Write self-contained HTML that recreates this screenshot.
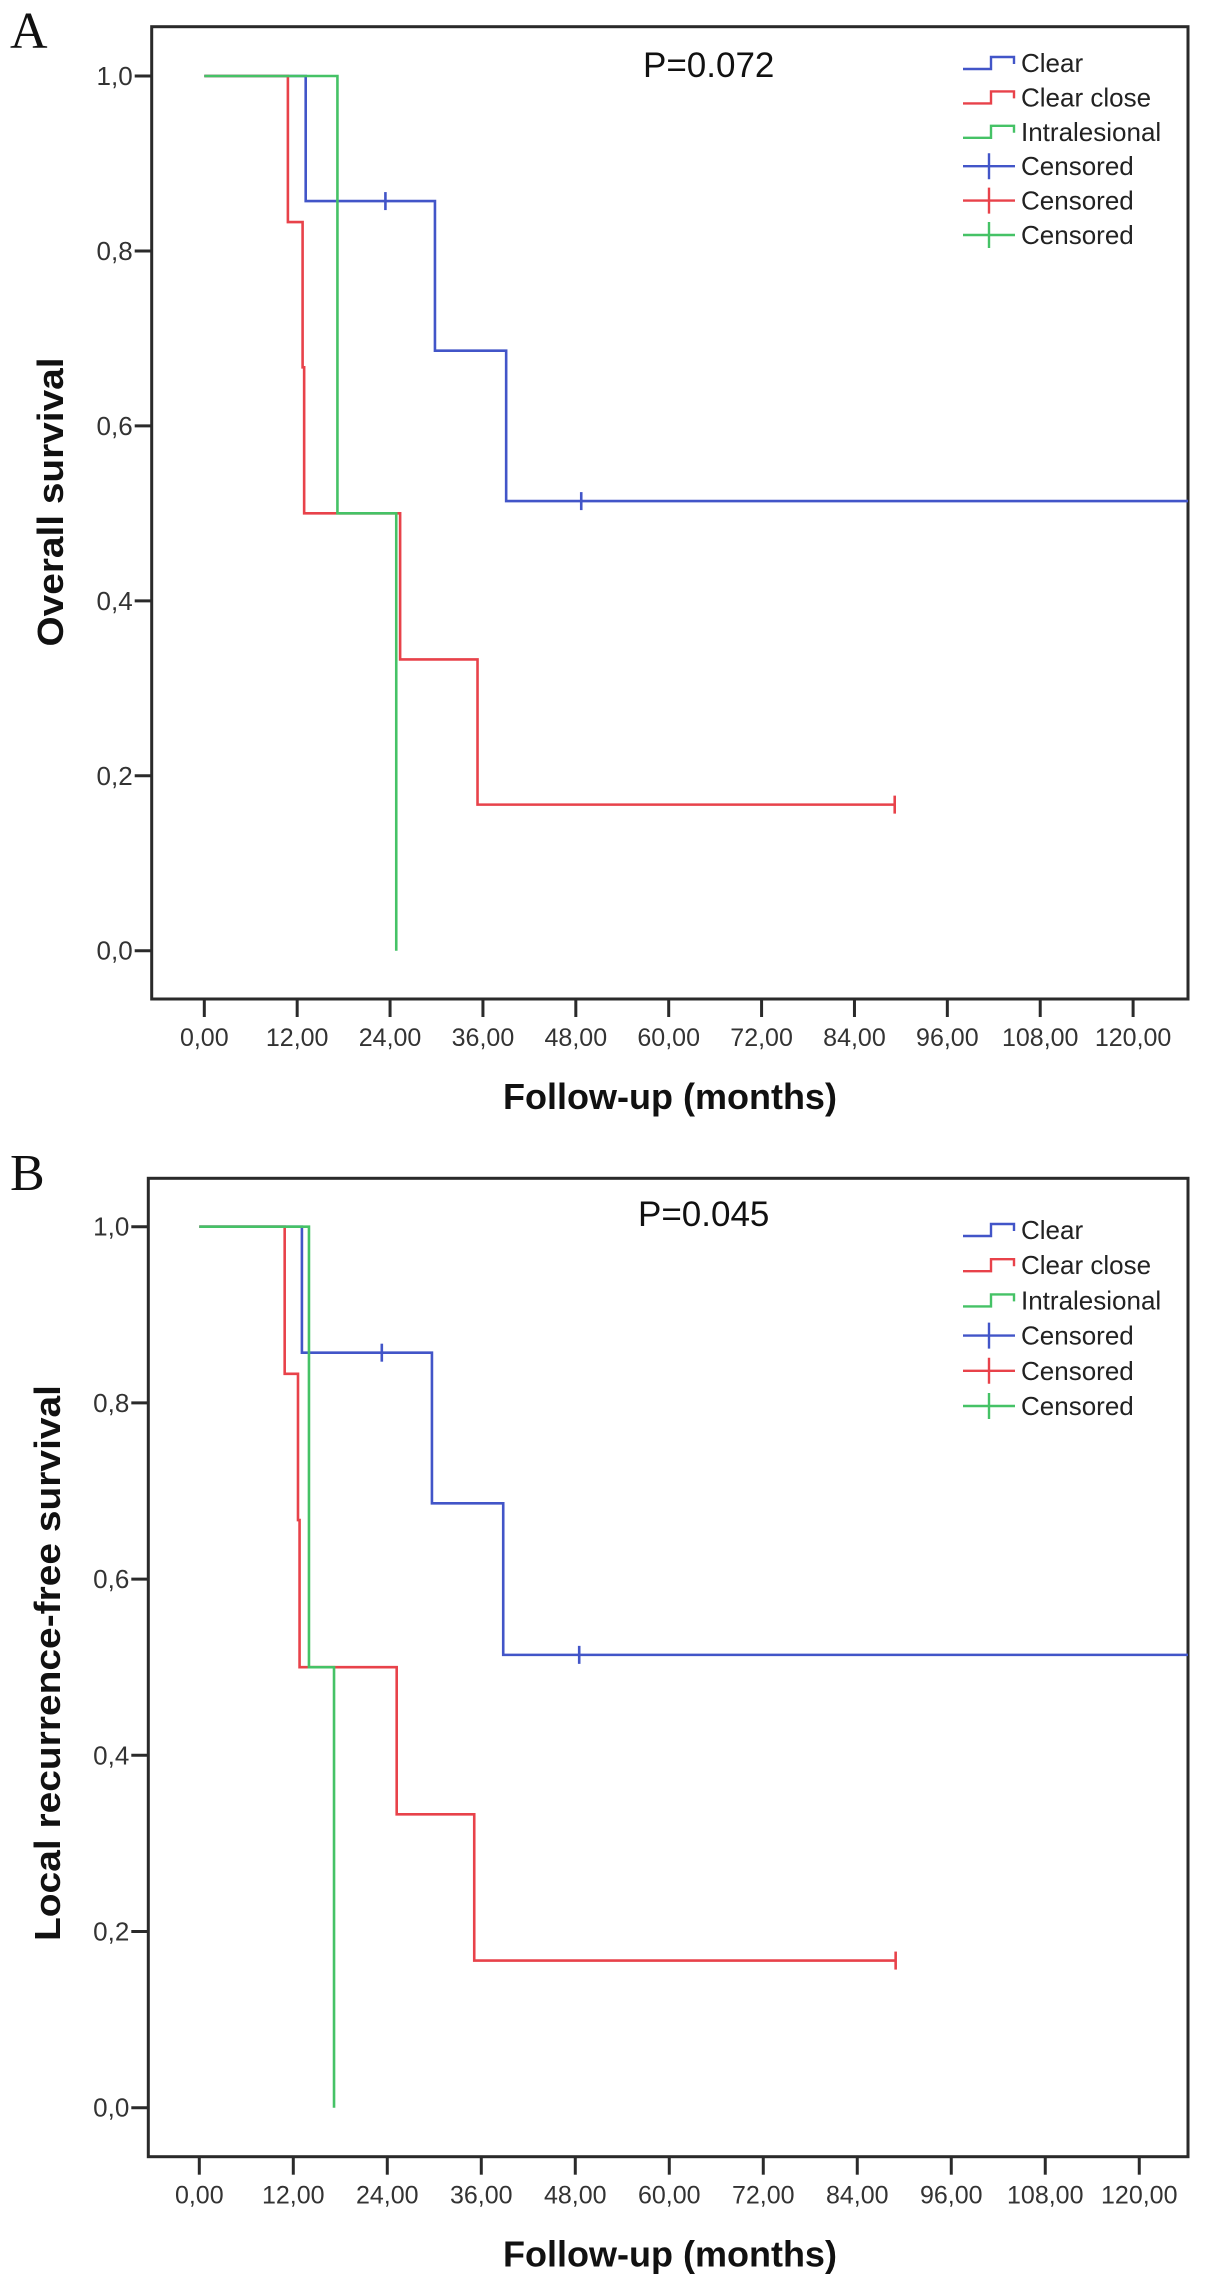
<!DOCTYPE html>
<html><head><meta charset="utf-8"><style>
html,body{margin:0;padding:0;background:#fff;}
svg{display:block;font-family:"Liberation Sans",Arial,sans-serif;}
</style></head><body>
<svg id="chart" width="1205" height="2287" viewBox="0 0 1205 2287" xmlns="http://www.w3.org/2000/svg"></svg>
<script>
// ---- data ----
const xTickValues = [0,12,24,36,48,60,72,84,96,108,120];
const xTickLabels = ["0,00","12,00","24,00","36,00","48,00","60,00","72,00","84,00","96,00","108,00","120,00"];
const yTickValues = [0,0.2,0.4,0.6,0.8,1.0];
const yTickLabels = ["0,0","0,2","0,4","0,6","0,8","1,0"];
const groupNames = ["Clear","Clear close","Intralesional"];
const groupColors = ["#4255c8","#e8424a","#45c266"];

// Panel A: Overall survival (event times / survival after each event)
const aClearTimes = [13.1, 29.8, 39.0];
const aClearSurv  = [0.857, 0.686, 0.514];
const aClearCensor = [23.4, 48.7];
const aClearEnd = 128;
const aCloseTimes = [10.8, 12.7, 12.9, 25.3, 35.3];
const aCloseSurv  = [0.833, 0.667, 0.5, 0.333, 0.167];
const aCloseCensor = [89.2];
const aCloseEnd = 89.2;
const aIntraTimes = [17.2, 24.8];
const aIntraSurv  = [0.5, 0];
const aIntraCensor = [];
const aIntraEnd = 24.8;

// Panel B: Local recurrence-free survival
const bClearTimes = [13.1, 29.7, 38.8];
const bClearSurv  = [0.857, 0.686, 0.514];
const bClearCensor = [23.3, 48.5];
const bClearEnd = 128;
const bCloseTimes = [10.9, 12.6, 12.8, 25.2, 35.1];
const bCloseSurv  = [0.833, 0.667, 0.5, 0.333, 0.167];
const bCloseCensor = [88.9];
const bCloseEnd = 88.9;
const bIntraTimes = [14.0, 17.2];
const bIntraSurv  = [0.5, 0];
const bIntraCensor = [];
const bIntraEnd = 17.2;

const NS = "http://www.w3.org/2000/svg";
const svg = document.getElementById('chart');
function mk(tag, attrs, parent){
  const e = document.createElementNS(NS, tag);
  for (const k in attrs) e.setAttribute(k, attrs[k]);
  (parent||svg).appendChild(e);
  return e;
}

function panel(cfg){
  const g = mk('g', {});
  
  
  const sx = v => cfg.x0 + v * cfg.pxPerMonth;
  const sy = v => cfg.y0 - v * (cfg.y0 - cfg.y1);

  const lab = mk('text', {x:cfg.letterX, y:cfg.letterY, 'font-family':'"Liberation Serif",serif', 'font-size':52, fill:'#111'}, g);
  lab.textContent = cfg.letter;
  
  

  const frame = mk('rect', {x:cfg.left, y:cfg.top, width:cfg.right-cfg.left, height:cfg.bottom-cfg.top, fill:'none', stroke:'#2a2a2a', 'stroke-width':3}, g);
  
  

  yTickValues.forEach((v,i)=>{
    const t = mk('line', {x1:cfg.left-17, x2:cfg.left, y1:sy(v), y2:sy(v), stroke:'#2a2a2a', 'stroke-width':3}, g);
    
    
    const tx = mk('text', {x:cfg.left-19, y:sy(v)+9, 'text-anchor':'end', 'font-size':26, fill:'#333'}, g);
    tx.textContent = yTickLabels[i];
    
    
  });
  xTickValues.forEach((v,i)=>{
    const t = mk('line', {x1:sx(v), x2:sx(v), y1:cfg.bottom, y2:cfg.bottom+18, stroke:'#2a2a2a', 'stroke-width':3}, g);
    
    
    const tx = mk('text', {x:sx(v), y:cfg.bottom+47, 'text-anchor':'middle', 'font-size':25, fill:'#333'}, g);
    tx.textContent = xTickLabels[i];
    
    
  });

  const xt = mk('text', {x:670, y:cfg.bottom+110, 'text-anchor':'middle', 'font-size':36, 'font-weight':'bold', fill:'#111'}, g);
  xt.textContent = 'Follow-up (months)';
  
  

  const yt = mk('text', {x:0, y:0, 'text-anchor':'middle', 'font-size':36, 'font-weight':'bold', fill:'#111',
    textLength:cfg.yTitleLen, lengthAdjust:'spacingAndGlyphs',
    transform:`translate(${cfg.yTitleX},${cfg.yTitleY}) rotate(-90)`}, g);
  yt.textContent = cfg.yTitle;
  
  

  const pt = mk('text', {x:cfg.pX, y:cfg.pY, 'font-size':35, fill:'#111'}, g);
  pt.textContent = cfg.pText;
  
  

  cfg.series.forEach((s, si)=>{
    let d = `M${sx(0)},${sy(1)}`;
    let cur = 1;
    s.times.forEach((t,k)=>{
      d += ` L${sx(t)},${sy(cur)} L${sx(t)},${sy(s.surv[k])}`;
      cur = s.surv[k];
    });
    d += ` L${Math.min(sx(s.end), cfg.right)},${sy(cur)}`;
    const p = mk('path', {d, fill:'none', stroke:groupColors[si], 'stroke-width':2.6}, g);
    
    
    s.censor.forEach(c=>{
      let sv = 1;
      s.times.forEach((t,k)=>{ if (t <= c) sv = s.surv[k]; });
      const m = mk('line', {x1:sx(c), x2:sx(c), y1:sy(sv)-9, y2:sy(sv)+9, stroke:groupColors[si], 'stroke-width':2.6}, g);
      
      
    });
  });

  // legend
  const lx = 963, lw = 52;
  const labels = groupNames.concat(["Censored","Censored","Censored"]);
  labels.forEach((name,i)=>{
    const y = cfg.legY + i*cfg.legStep;
    const col = groupColors[i%3];
    let sym;
    if (i < 3) {
      sym = mk('path', {d:`M${lx},${y+6} L${lx+28},${y+6} L${lx+28},${y-6} L${lx+51},${y-6} L${lx+51},${y+1}`, fill:'none', stroke:col, 'stroke-width':2.4}, g);
    } else {
      sym = mk('path', {d:`M${lx},${y} L${lx+lw},${y} M${lx+26},${y-13} L${lx+26},${y+13}`, fill:'none', stroke:col, 'stroke-width':2.4}, g);
    }
    
    
    const t = mk('text', {x:1021, y:y+9, 'font-size':26, fill:'#222'}, g);
    t.textContent = name;
    
    
  });
}

panel({id:'panel-a-overall-survival', letter:'A', letterX:10, letterY:48,
  left:151.7, top:26.7, right:1188, bottom:999,
  x0:204.3, pxPerMonth:7.74, y0:950.7, y1:76,
  yTitle:'Overall survival', yTitleX:63, yTitleY:502, yTitleLen:289,
  pText:'P=0.072', pX:643, pY:77,
  legY:63, legStep:34.4,
  series:[
    {times:aClearTimes, surv:aClearSurv, censor:aClearCensor, end:aClearEnd},
    {times:aCloseTimes, surv:aCloseSurv, censor:aCloseCensor, end:aCloseEnd},
    {times:aIntraTimes, surv:aIntraSurv, censor:aIntraCensor, end:aIntraEnd}
  ]});

panel({id:'panel-b-local-recurrence-free-survival', letter:'B', letterX:10, letterY:1190,
  left:148.3, top:1178.3, right:1188, bottom:2156.7,
  x0:199.3, pxPerMonth:7.833, y0:2107.7, y1:1226.7,
  yTitle:'Local recurrence-free survival', yTitleX:60, yTitleY:1663, yTitleLen:556,
  pText:'P=0.045', pX:638, pY:1226,
  legY:1230, legStep:35.2,
  series:[
    {times:bClearTimes, surv:bClearSurv, censor:bClearCensor, end:bClearEnd},
    {times:bCloseTimes, surv:bCloseSurv, censor:bCloseCensor, end:bCloseEnd},
    {times:bIntraTimes, surv:bIntraSurv, censor:bIntraCensor, end:bIntraEnd}
  ]});
</script>
</body></html>
